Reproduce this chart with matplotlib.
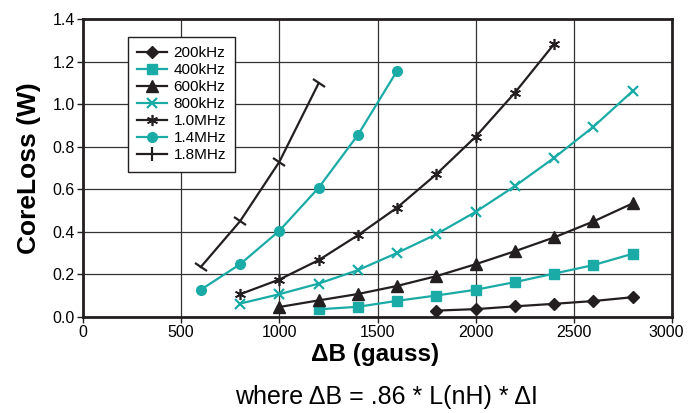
import matplotlib.pyplot as plt
from matplotlib.lines import Line2D
from matplotlib.markers import MarkerStyle
from matplotlib.transforms import Affine2D, ScaledTranslation

plt.rcParams['font.family'] = ['Liberation Sans', 'DejaVu Sans']

# Core loss data (x = delta B in gauss, y = watts)
x_200k = [1800, 2000, 2200, 2400, 2600, 2800]
y_200k = [0.030, 0.037, 0.050, 0.062, 0.075, 0.093]

x_400k = [1200, 1400, 1600, 1800, 2000, 2200, 2400, 2600, 2800]
y_400k = [0.036, 0.048, 0.076, 0.101, 0.128, 0.164, 0.204, 0.244, 0.297]

x_600k = [1000, 1200, 1400, 1600, 1800, 2000, 2200, 2400, 2600, 2800]
y_600k = [0.047, 0.078, 0.108, 0.146, 0.192, 0.248, 0.309, 0.374, 0.449, 0.534]

x_800k = [800, 1000, 1200, 1400, 1600, 1800, 2000, 2200, 2400, 2600, 2800]
y_800k = [0.063, 0.107, 0.157, 0.220, 0.301, 0.389, 0.494, 0.615, 0.748, 0.894, 1.062]

x_1m = [800, 1000, 1200, 1400, 1600, 1800, 2000, 2200, 2400]
y_1m = [0.107, 0.176, 0.267, 0.384, 0.514, 0.671, 0.847, 1.054, 1.283]

x_14m = [600, 800, 1000, 1200, 1400, 1600]
y_14m = [0.128, 0.248, 0.405, 0.607, 0.855, 1.157]

x_18m = [600, 800, 1000, 1200]
y_18m = [0.235, 0.450, 0.729, 1.098]

x_ticks = [0, 500, 1000, 1500, 2000, 2500, 3000]
y_ticks = [0.0, 0.2, 0.4, 0.6, 0.8, 1.0, 1.2, 1.4]

black = '#231f20'
teal = '#1aaba6'

fig = plt.figure(figsize=(6.88, 4.13), dpi=100)
ax = fig.add_axes([83 / 688, 1 - 317 / 413, 589 / 688, 298 / 413])

lw = 1.6
h1, = ax.plot(x_200k, y_200k, color=black, lw=lw, marker='D', ms=6, label='200kHz')
h2, = ax.plot(x_400k, y_400k, color=teal, lw=lw, marker='s', ms=6.5, label='400kHz')
h3, = ax.plot(x_600k, y_600k, color=black, lw=lw, marker='^', ms=8, label='600kHz')
h4, = ax.plot(x_800k, y_800k, color=teal, lw=lw, marker='x', ms=7, mew=1.6, label='800kHz')
h5, = ax.plot(x_1m, y_1m, color=black, lw=lw, marker=(6, 2, 0), ms=8, mew=1.2, label='1.0MHz')
h6, = ax.plot(x_14m, y_14m, color=teal, lw=lw, marker='o', ms=7, label='1.4MHz')
# 1.8MHz ticks sit across the line, so rotate them on the plot
tick_marker = MarkerStyle('_', transform=Affine2D().rotate_deg(-33))
ax.plot(x_18m, y_18m, color=black, lw=lw, marker=tick_marker, ms=10, mew=1.6)
h7 = Line2D([], [], color=black, lw=lw, marker='|', ms=10, mew=1.6, label='1.8MHz')

ax.set_xlim(0, 3000)
ax.set_ylim(0, 1.4)
ax.set_xticks(x_ticks)
ax.set_yticks(y_ticks)
ax.set_yticklabels(['%.1f' % v for v in y_ticks])
ax.tick_params(labelsize=11.5, length=4, width=1, color=black, pad=2)
# last x label would run off the right edge
last = ax.get_xticklabels()[-1]
last.set_transform(last.get_transform() + ScaledTranslation(-4 / 72, 0, fig.dpi_scale_trans))
ax.grid(True, color='#333333', lw=0.9)
ax.set_axisbelow(True)
for s in ax.spines.values():
    s.set_linewidth(2)
    s.set_color(black)

ax.set_ylabel('CoreLoss (W)', fontsize=19, fontweight='bold', labelpad=8)
fig.text(0.545, 1 - 354 / 413, '\u0394B (gauss)', ha='center', va='center',
         fontsize=17.5, fontweight='bold')
fig.text(0.562, 1 - 397 / 413, 'where \u0394B = .86 * L(nH) * \u0394I', ha='center',
         va='center', fontsize=18)

leg = ax.legend(handles=[h1, h2, h3, h4, h5, h6, h7], loc='upper left',
                bbox_to_anchor=(0.076, 0.94), borderaxespad=0, fontsize=11,
                handlelength=2.0, handletextpad=0.4, labelspacing=0.2,
                borderpad=0.6, fancybox=False, framealpha=1, edgecolor=black)
leg.get_frame().set_linewidth(1)

fig.savefig('out.png', dpi=100)
